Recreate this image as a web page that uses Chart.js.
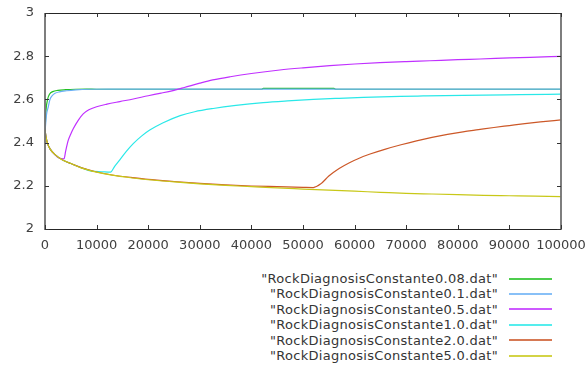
<!DOCTYPE html>
<html>
<head>
<meta charset="utf-8">
<script src="https://cdn.jsdelivr.net/npm/chart.js@4/dist/chart.umd.min.js"></script>
<style>
  html, body { margin: 0; padding: 0; background: #fff; }
  #wrap { position: relative; width: 587px; height: 367px; overflow: hidden; }
  #plot { position: absolute; left: 0; top: 0; }
  #legend { position: absolute; right: 35px; top: 271px; font-family: 'DejaVu Sans', sans-serif; font-size: 13px; letter-spacing: 0.3px; color: #353535; }
  .row { display: flex; justify-content: flex-end; align-items: center; height: 15.4px; line-height: 15.4px; white-space: pre; }
  .sample { display: inline-block; width: 43px; height: 2px; margin-left: 11px; opacity: 0.8; }
</style>
</head>
<body>
<div id="wrap">
  <canvas id="plot" width="587" height="260"></canvas>
  <div id="legend"></div>
</div>
<script>
(function(){
  var names = [
    '"RockDiagnosisConstante0.08.dat"',
    '"RockDiagnosisConstante0.1.dat"',
    '"RockDiagnosisConstante0.5.dat"',
    '"RockDiagnosisConstante1.0.dat"',
    '"RockDiagnosisConstante2.0.dat"',
    '"RockDiagnosisConstante5.0.dat"'
  ];
  var colors = ['#22c022', '#6ab0f5', '#c030ff', '#2ae8e8', '#cc5828', '#c8c818'];

  var xTicks = [0, 10000, 20000, 30000, 40000, 50000, 60000, 70000, 80000, 90000, 100000];
  var yTicks = [2, 2.2, 2.4, 2.6, 2.8, 3];

  // 0.08 (mostly hidden under 0.1)
  var x008 = [0, 200, 500, 900, 1500, 2500, 4000, 6000, 8000, 10000, 42000, 42300, 56000, 56300, 100000];
  var y008 = [2.45, 2.55, 2.6, 2.625, 2.636, 2.642, 2.645, 2.647, 2.648, 2.647, 2.647, 2.651, 2.651, 2.647, 2.647];
  // 0.1
  var x01 = [0, 300, 640, 970, 1400, 1940, 2800, 4200, 6000, 8700, 12000, 100000];
  var y01 = [2.45, 2.53, 2.566, 2.6, 2.617, 2.628, 2.635, 2.64, 2.644, 2.647, 2.648, 2.648];
  // 0.5
  var x05 = [0, 200, 500, 1000, 2000, 2600, 3700, 4000, 4500, 5000, 5500, 6500, 7400, 8500, 10000, 12000, 14500, 17100, 20000, 22500, 24800, 27000, 30000, 32500, 35900, 40000, 45500, 50000, 55200, 60000, 64900, 70000, 74600, 80000, 84300, 90000, 94000, 100000];
  var y05 = [2.46, 2.425, 2.395, 2.37, 2.343, 2.33, 2.325, 2.36, 2.41, 2.44, 2.465, 2.505, 2.533, 2.552, 2.566, 2.578, 2.59, 2.602, 2.617, 2.629, 2.641, 2.655, 2.675, 2.69, 2.705, 2.72, 2.736, 2.746, 2.756, 2.764, 2.77, 2.775, 2.779, 2.784, 2.787, 2.792, 2.795, 2.799];
  // 1.0
  var x10 = [0, 200, 500, 1000, 2000, 3500, 5000, 7000, 9000, 11000, 12700, 13500, 14500, 15800, 17100, 18700, 20300, 22900, 26200, 29000, 32600, 37000, 42300, 47000, 52000, 57000, 61700, 68800, 73300, 81000, 92000, 100000];
  var y10 = [2.46, 2.425, 2.395, 2.37, 2.343, 2.318, 2.303, 2.284, 2.268, 2.265, 2.263, 2.29, 2.32, 2.36, 2.395, 2.43, 2.458, 2.492, 2.525, 2.543, 2.558, 2.572, 2.585, 2.593, 2.6, 2.605, 2.609, 2.614, 2.616, 2.619, 2.622, 2.624];
  // 2.0
  var x20 = [0, 200, 500, 1000, 2000, 3500, 5000, 7000, 10000, 13000, 17000, 20000, 25000, 30000, 35000, 40000, 45000, 50000, 52000, 53500, 55000, 57000, 59000, 61000, 63000, 66000, 69000, 72000, 75000, 78000, 81000, 84000, 87000, 90000, 93000, 96000, 100000];
  var y20 = [2.46, 2.425, 2.395, 2.37, 2.343, 2.318, 2.303, 2.284, 2.264, 2.25, 2.238, 2.23, 2.22, 2.211, 2.204, 2.199, 2.196, 2.193, 2.192, 2.21, 2.245, 2.28, 2.307, 2.329, 2.347, 2.37, 2.39, 2.408, 2.424, 2.438, 2.45, 2.46, 2.47, 2.479, 2.488, 2.496, 2.505];
  // 5.0
  var x50 = [0, 200, 500, 1000, 2000, 3500, 5000, 7000, 10000, 13000, 17000, 20000, 25000, 30000, 35000, 40000, 45000, 50000, 55000, 60000, 65000, 70000, 75000, 80000, 85000, 90000, 95000, 100000];
  var y50 = [2.46, 2.425, 2.395, 2.37, 2.343, 2.318, 2.303, 2.283, 2.263, 2.249, 2.236, 2.228, 2.218, 2.209, 2.202, 2.196, 2.19, 2.185, 2.18, 2.175, 2.17, 2.165, 2.162, 2.159, 2.156, 2.154, 2.152, 2.15];

  var xs = [x008, x01, x05, x10, x20, x50];
  var ys = [y008, y01, y05, y10, y20, y50];

  function pts(xa, ya){
    return xa.map(function(v, i){ return {x: v, y: ya[i]}; });
  }

  // later files drawn on top, like gnuplot
  var datasets = names.map(function(n, i){
    return {
      label: n,
      data: pts(xs[i], ys[i]),
      borderColor: colors[i],
      borderWidth: 1.2,
      pointRadius: 0,
      cubicInterpolationMode: 'monotone',
      order: names.length - i
    };
  });

  var frame = {
    id: 'frame',
    afterDatasetsDraw: function(chart){
      var ctx = chart.ctx, a = chart.chartArea;
      var sx = chart.scales.x, sy = chart.scales.y;
      var L = Math.round(a.left), R = Math.round(a.right), T = Math.round(a.top), B = Math.round(a.bottom);
      ctx.save();
      ctx.strokeStyle = '#262626';
      ctx.lineWidth = 1;
      ctx.beginPath();
      ctx.moveTo(L, T + 0.5); ctx.lineTo(R, T + 0.5);
      ctx.moveTo(L, B + 0.5); ctx.lineTo(R, B + 0.5);
      ctx.stroke();
      ctx.strokeStyle = '#707070';
      ctx.lineWidth = 1.8;
      ctx.beginPath();
      ctx.moveTo(L, T); ctx.lineTo(L, B + 1);
      ctx.moveTo(R, T); ctx.lineTo(R, B + 1);
      ctx.stroke();
      ctx.strokeStyle = '#333';
      ctx.lineWidth = 1;
      ctx.beginPath();
      xTicks.forEach(function(v){
        var px = Math.round(sx.getPixelForValue(v)) + 0.5;
        ctx.moveTo(px, B); ctx.lineTo(px, B - 4);
        ctx.moveTo(px, T); ctx.lineTo(px, T + 4);
      });
      yTicks.forEach(function(v){
        var py = Math.round(sy.getPixelForValue(v)) + 0.5;
        ctx.moveTo(L, py); ctx.lineTo(L + 4, py);
        ctx.moveTo(R, py); ctx.lineTo(R - 4, py);
      });
      ctx.stroke();
      ctx.restore();
    }
  };

  Chart.defaults.font.family = "'DejaVu Sans', sans-serif";
  Chart.defaults.font.size = 13;
  Chart.defaults.color = '#404040';

  new Chart(document.getElementById('plot'), {
    type: 'line',
    data: { datasets: datasets },
    plugins: [frame],
    options: {
      responsive: false,
      animation: false,
      devicePixelRatio: 1,
      layout: { padding: { left: 0, top: 13, right: 26, bottom: 0 } },
      plugins: { legend: { display: false }, tooltip: { enabled: false } },
      scales: {
        x: {
          type: 'linear',
          min: 0,
          max: 100000,
          grid: { display: false, drawTicks: false },
          border: { display: false },
          afterBuildTicks: function(s){ s.ticks = xTicks.map(function(v){ return {value: v}; }); },
          afterFit: function(s){ s.height = 31; s.paddingLeft = 0; s.paddingRight = 0; },
          ticks: { padding: 9, maxRotation: 0, autoSkip: false, callback: function(v){ return String(v); } }
        },
        y: {
          type: 'linear',
          min: 2,
          max: 3,
          grid: { display: false, drawTicks: false },
          border: { display: false },
          afterBuildTicks: function(s){ s.ticks = yTicks.map(function(v){ return {value: v}; }); },
          afterFit: function(s){ s.width = 45; s.paddingTop = 0; s.paddingBottom = 0; },
          ticks: { padding: 11, autoSkip: false, callback: function(v){ return String(v); } }
        }
      }
    }
  });

  var legend = document.getElementById('legend');
  legend.innerHTML = names.map(function(n, i){
    return '<div class="row"><span>' + n.replace(/&/g, '&amp;').replace(/</g, '&lt;') + '</span><span class="sample" style="background:' + colors[i] + '"></span></div>';
  }).join('');
})();
</script>
</body>
</html>
